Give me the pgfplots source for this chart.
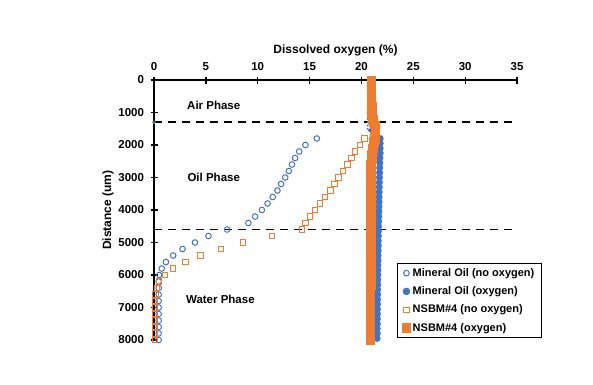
\documentclass[border=0pt]{standalone}
\usepackage{pgfplots}
\pgfplotsset{compat=1.18}
\usepackage{fontspec}
\setmainfont{Liberation Sans}
\definecolor{moblue}{HTML}{4472C4}
\definecolor{nsorange}{HTML}{ED7D31}
\begin{document}
\begin{tikzpicture}
\useasboundingbox (0,0) rectangle (593pt,384pt);
\begin{axis}[
  at={(335.5pt,174pt)}, anchor=center,
  scale only axis, width=363pt, height=260pt,
  xmin=0, xmax=35, ymin=0, ymax=8000,
  y dir=reverse,
  axis x line=top, axis y line=left,
  axis line style={-, line width=1.3pt, draw=black},
  xtick={0,5,...,35}, ytick={0,1000,...,8000},
  tick align=center, major tick length=7pt,
  every tick/.style={line width=1.3pt, black},
  /pgf/number format/assume math mode=true,
  /pgf/number format/set thousands separator={},
  ticklabel style={font=\bfseries\fontsize{11.5}{13}\selectfont},
  yticklabel style={xshift=-3pt},
  xticklabel style={yshift=2pt},
  clip=false,
  legend style={at={(axis cs:23.4,5630)}, anchor=north west, draw=black, line width=0.9pt, font=\bfseries\fontsize{11}{13}\selectfont, row sep=4.8pt, inner xsep=5pt, inner ysep=3pt},
  legend cell align=left,
  legend image code/.code={\draw[#1] plot coordinates {(0.1cm,0cm)};},
]
% air phase hidden points
\addplot[forget plot, only marks, mark=*, mark size=0.8pt, color=moblue!60!gray] coordinates {
(20.6,0)(20.6,100)(20.6,200)(20.6,300)(20.6,400)(20.6,500)(20.6,600)(20.6,700)(20.6,800)(20.6,900)(20.6,1000)(20.6,1100)(20.6,1200)(20.6,1300)(20.6,1400)(20.6,1500)};
% dashed phase boundaries
\addplot[forget plot, black, line width=1.6pt, dash pattern=on 8pt off 6pt] coordinates {(0,1300) (35,1300)};
\addplot[forget plot, black, line width=1.6pt, dash pattern=on 8pt off 6pt] coordinates {(0,4600) (35,4600)};
\addplot[forget plot, only marks, mark=*, mark size=1.5pt, color=moblue] coordinates {(0,1300)};

\addplot[only marks, mark=o, mark size=2.8pt, color=moblue, line width=1.0pt] coordinates {
(15.7,1800)(14.6,2000)(14.0,2200)(13.6,2400)(13.3,2600)(13.0,2800)(12.65,3000)(12.25,3200)
(11.9,3400)(11.45,3600)(10.95,3800)(10.4,4000)(9.75,4200)(9.1,4400)(7.05,4600)(5.25,4800)
(3.95,5000)(2.75,5200)(1.85,5400)(1.15,5600)(0.75,5800)(0.5,6000)(0.45,6200)(0.45,6400)
(0.45,6600)(0.45,6800)(0.45,7000)(0.45,7200)(0.45,7400)(0.45,7600)(0.45,7800)(0.45,8000)};
\addlegendentry{Mineral Oil (no oxygen)}

\addplot[only marks, mark=*, mark size=3.3pt, color=moblue] coordinates {
(21.8,1800)(21.8,1950)(21.8,2100)(21.8,2250)(21.78,2400)(21.77,2550)(21.76,2700)(21.75,2850)
(21.74,3000)(21.73,3150)(21.72,3300)(21.71,3450)(21.7,3600)(21.7,3750)(21.69,3900)(21.68,4050)
(21.67,4200)(21.66,4350)(21.65,4500)(21.64,4650)(21.63,4800)(21.62,4950)(21.62,5100)(21.61,5250)
(21.6,5400)(21.6,5550)(21.59,5700)(21.58,5850)(21.58,6000)(21.57,6150)(21.57,6300)(21.56,6450)
(21.56,6600)(21.55,6750)(21.55,6900)(21.54,7050)(21.54,7200)(21.53,7350)(21.53,7500)(21.52,7650)
(21.52,7800)(21.51,7950)};
\addlegendentry{Mineral Oil (oxygen)}

\addplot[only marks, mark=square, mark size=2.7pt, color=nsorange, line width=1.0pt] coordinates {
(20.3,1800)(19.85,2000)(19.4,2200)(19.05,2400)(18.65,2600)(18.2,2800)(17.8,3000)(17.4,3200)
(17.0,3400)(16.5,3600)(16.0,3800)(15.5,4000)(15.05,4200)(14.6,4400)(14.25,4600)(11.4,4800)
(8.6,5000)(6.45,5200)(4.5,5400)(3.05,5600)(1.85,5800)(1.05,6000)(0.5,6200)(0.3,6400)
(0.15,6600)(0.1,6800)(0.1,7000)(0.1,7200)(0.1,7400)(0.1,7600)(0.1,7800)(0.1,8000)};
\addlegendentry{NSBM\#4 (no oxygen)}

\addplot[only marks, mark=square*, mark size=4.3pt, color=nsorange] coordinates {
(20.95,0)(20.95,100)(20.95,200)(20.95,300)(20.95,400)(20.95,500)(20.95,600)(20.95,700)
(20.97,800)(20.99,900)(21.0,1000)(21.03,1100)(21.08,1200)(21.15,1300)(21.25,1400)(21.3,1500)
(21.3,1600)(21.3,1700)(21.25,1800)(21.2,1900)(21.15,2000)(21.1,2100)(21.05,2200)(21.0,2300)
(21.0,2400)(20.95,2500)(20.92,2600)(20.9,2700)(20.9,2800)(20.9,2900)(20.9,3000)(20.9,3100)
(20.9,3200)(20.9,3300)(20.9,3400)(20.9,3500)(20.9,3600)(20.9,3700)(20.9,3800)(20.9,3900)
(20.9,4000)(20.9,4100)(20.9,4200)(20.9,4300)(20.9,4400)(20.9,4500)(20.9,4600)(20.9,4700)
(20.88,4800)(20.88,4900)(20.88,5000)(20.88,5100)(20.88,5200)(20.88,5300)(20.88,5400)(20.88,5500)
(20.87,5600)(20.87,5700)(20.87,5800)(20.87,5900)(20.87,6000)(20.87,6100)(20.87,6200)(20.87,6300)
(20.86,6400)(20.86,6500)(20.86,6600)(20.86,6700)(20.86,6800)(20.86,6900)(20.86,7000)(20.86,7100)
(20.85,7200)(20.85,7300)(20.85,7400)(20.85,7500)(20.85,7600)(20.85,7700)(20.85,7800)(20.85,7900)
(20.85,8000)};
\addlegendentry{NSBM\#4 (oxygen)}

\addplot[forget plot, only marks, mark=*, mark size=1.6pt, color=moblue!80!violet] coordinates {(20.8,1550)};

\node[font=\bfseries\fontsize{11.5}{13}\selectfont] at (axis cs:5.76,770) {Air Phase};
\node[font=\bfseries\fontsize{11.5}{13}\selectfont] at (axis cs:5.76,2985) {Oil Phase};
\node[font=\bfseries\fontsize{11.5}{13}\selectfont] at (axis cs:6.4,6740) {Water Phase};
\end{axis}
\node[font=\bfseries\fontsize{12}{14}\selectfont] at (335.5pt,334pt) {Dissolved oxygen (\%)};
\node[font=\bfseries\fontsize{12}{14}\selectfont, rotate=90] at (108pt,174pt) {Distance (um)};
\end{tikzpicture}
\end{document}
